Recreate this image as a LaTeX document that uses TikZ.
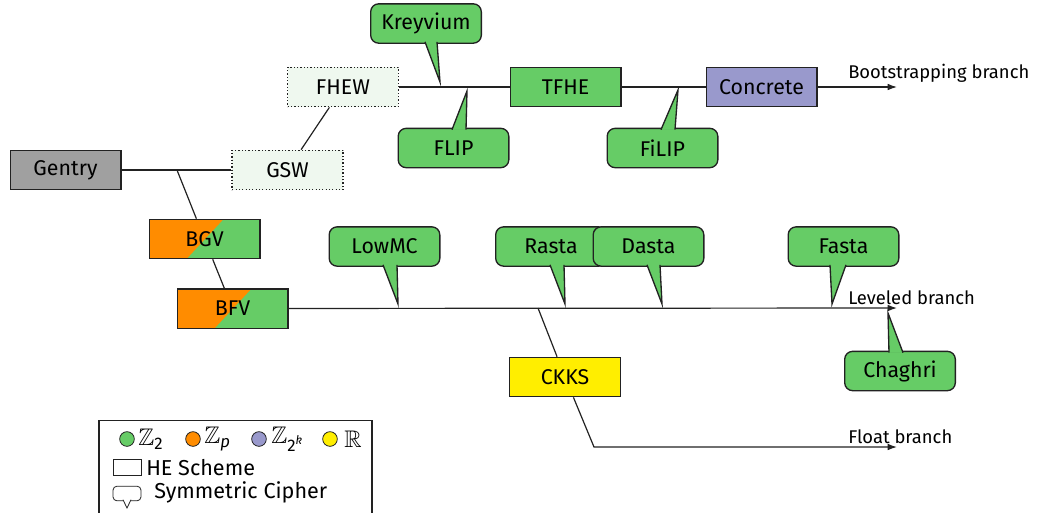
\documentclass[tikz,border=0pt]{standalone}
\usepackage{amsmath}
\usepackage{amssymb}
\usepackage{fontspec}
\setmainfont{Fira Sans}
\usetikzlibrary{calc,arrows.meta,backgrounds}

\definecolor{zgreen}{HTML}{66CC66}
\definecolor{zorange}{HTML}{FF8C00}
\definecolor{zpurple}{HTML}{9999CC}
\definecolor{zyellow}{HTML}{FFEE00}
\definecolor{zgray}{HTML}{A0A0A0}
\definecolor{palegreen}{HTML}{EFF8EF}
\definecolor{edge}{HTML}{222222}

\tikzset{
  scheme/.style={draw=edge, line width=1pt, minimum width=83pt, minimum height=29.5pt,
    inner sep=0pt, font=\fontsize{16}{19}\selectfont},
  dotbox/.style={draw=edge, line width=1.1pt, dash pattern=on 0.9pt off 1.6pt, fill=palegreen},
  split/.style={fill=zgreen, path picture={
      \fill[zorange] (path picture bounding box.north west)
        -- ($(path picture bounding box.north west)!0.67!(path picture bounding box.north east)$)
        -- ($(path picture bounding box.south west)!0.34!(path picture bounding box.south east)$)
        -- (path picture bounding box.south west) -- cycle;}},
  cipher/.style={scheme, fill=zgreen, rounded corners=6pt},
  tailpart/.style={fill=zgreen, draw=edge, line width=1pt, line join=miter},
  link/.style={draw=edge, line width=0.9pt},
  arrowed/.style={-{Latex[length=7pt,width=5pt]}},
  branch/.style={font=\fontsize{13.8}{16}\selectfont, inner sep=0pt},
  legendtext/.style={font=\fontsize{16.2}{19}\selectfont, inner sep=0pt, anchor=west},
  legendmath/.style={font=\fontsize{18}{21}\selectfont, inner sep=0pt, anchor=west},
  swatch/.style={circle, draw=edge, line width=0.6pt, minimum size=11pt, inner sep=0pt},
}

% pointer of a cipher callout: node, edge anchor, base x1, base x2, tip, inward shift
\newcommand\ciphertail[6]{%
  \filldraw[tailpart] ($(#3,0 |- #1.#2)+(0,#6)$) -- (#5) -- ($(#4,0 |- #1.#2)+(0,#6)$);}

\begin{document}
\begin{tikzpicture}[x=0.75pt,y=-0.75pt]
\useasboundingbox (0,0) rectangle (1043,512);

% homomorphic encryption schemes
\node[scheme, fill=zgray] (gentry) at (65.5,170) {Gentry};
\node[scheme, dotbox] (gsw) at (287.5,170) {GSW};
\node[scheme, dotbox] (fhew) at (343,87) {FHEW};
\node[scheme, fill=zgreen] (tfhe) at (565.5,87) {TFHE};
\node[scheme, fill=zpurple] (concrete) at (761.5,87) {Concrete};
\node[scheme, split] (bgv) at (204.5,239) {BGV};
\node[scheme, split] (bfv) at (232.5,308.5) {BFV};
\node[scheme, fill=zyellow] (ckks) at (565,377) {CKKS};

% branch points and ends
\coordinate (j1) at (177,170);
\coordinate (bootend) at (897,87);
\coordinate (lvend) at (897,308);
\coordinate (fork) at (538,308);
\coordinate (bend) at (594,447);
\coordinate (flend) at (897,447);

\begin{scope}[on background layer]
  \draw[link] (gentry) -- (gsw);
  \draw[link] (gsw) -- (fhew);
  \draw[link] (fhew) -- (tfhe);
  \draw[link] (tfhe) -- (concrete);
  \draw[link, arrowed] (concrete) -- (bootend);
  \draw[link] (j1) -- (bgv);
  \draw[link] (bgv) -- (bfv);
  \draw[link, arrowed] (bfv) -- (lvend);
  \draw[link] (fork) -- (ckks);
  \draw[link, arrowed] (ckks) -- (bend) -- (flend);
\end{scope}

% symmetric ciphers
\node[cipher] (kreyvium) at (426,23.5) {Kreyvium};
\ciphertail{kreyvium}{south}{425}{437}{440,82}{-2}
\node[cipher] (flip) at (453.5,148) {FLIP};
\ciphertail{flip}{north}{452}{466}{467,91}{2}
\node[cipher] (filip) at (662.5,148) {FiLIP};
\ciphertail{filip}{north}{661}{675}{678,90}{2}
\node[cipher] (lowmc) at (384.5,246.5) {LowMC};
\ciphertail{lowmc}{south}{383}{397}{398,304}{-2}
\node[cipher] (rasta) at (551,246.5) {Rasta};
\ciphertail{rasta}{south}{550}{564}{565,304}{-2}
\node[cipher] (dasta) at (648.5,246.5) {Dasta};
\ciphertail{dasta}{south}{647}{660}{662,304}{-2}
\node[cipher] (fasta) at (843.5,246.5) {Fasta};
\ciphertail{fasta}{south}{830}{846}{832,304}{-2}
\node[cipher] (chaghri) at (900,371) {Chaghri};
\ciphertail{chaghri}{north}{889}{903}{888,313}{2}

% branch labels
\node[branch, anchor=base west] (bootlbl) at (848,78) {Bootstrapping branch};
\node[branch, anchor=base west] (lvlbl) at (848,304) {Leveled branch};
\node[branch, anchor=base west] (fllbl) at (848,443) {Float branch};

% legend
\node[draw=edge, line width=0.8pt, minimum width=204.75pt, minimum height=70pt, inner sep=0pt]
  (legend) at (235.5,467) {};
\node[swatch, fill=zgreen] (kz2) at (127,439) {};
\node[legendmath] (tz2) at (138,439) {$\mathbb{Z}_{\text{2}}$};
\node[swatch, fill=zorange] (kzp) at (193,439) {};
\node[legendmath] (tzp) at (204,439) {$\mathbb{Z}_{\textit{p}}$};
\node[swatch, fill=zpurple] (kzk) at (259,439) {};
\node[legendmath] (tzk) at (271,439) {$\mathbb{Z}_{\text{2}^{\textit{k}}}$};
\node[swatch, fill=zyellow] (kr) at (330,439) {};
\node[legendmath] (tr) at (344,439) {$\mathbb{R}$};
\node[draw=edge, line width=0.6pt, minimum width=21pt, minimum height=12pt, inner sep=0pt]
  (keyscheme) at (127,467) {};
\node[legendtext] (tscheme) at (146,468) {HE Scheme};
\node[draw=edge, line width=0.6pt, rounded corners=3pt, minimum width=21pt, minimum height=11pt,
  inner sep=0pt, fill=white] (keycipher) at (127,493.5) {};
\filldraw[fill=white, draw=edge, line width=0.6pt, line join=miter]
  ($(123,0 |- keycipher.south)+(0,-1.5)$) -- (127,508) -- ($(131,0 |- keycipher.south)+(0,-1.5)$);
\node[legendtext] (tcipher) at (154,492) {Symmetric Cipher};
\end{tikzpicture}
\end{document}
